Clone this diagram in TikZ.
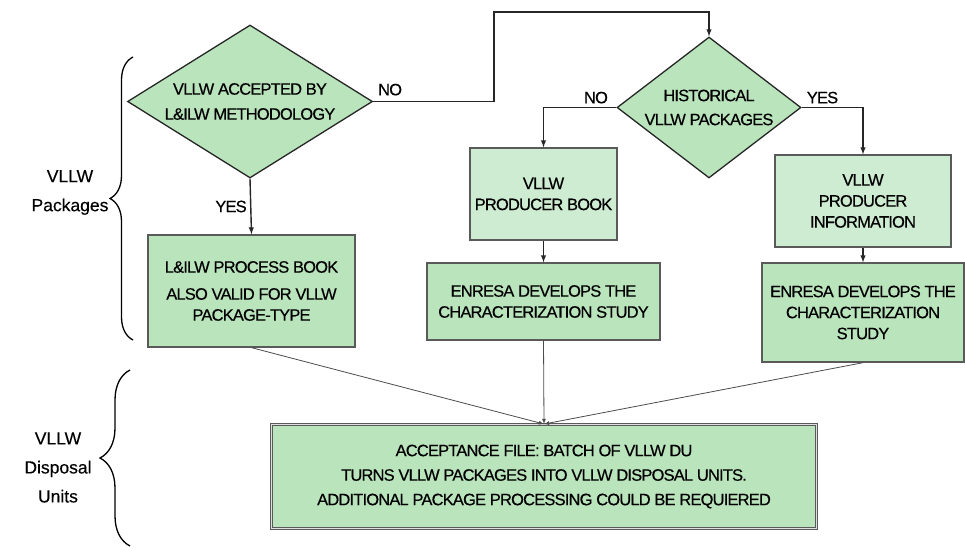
\documentclass[tikz,border=0pt]{standalone}
\usepackage{fontspec}
\setmainfont{Liberation Sans}
\newfontfamily\boxfont[LetterSpace=-5, FakeBold=0.4]{Liberation Sans}
\newfontfamily\sidefont[FakeBold=0.3]{Liberation Sans}
\usepackage{tikz}
\usetikzlibrary{shapes.geometric}
\usetikzlibrary{decorations.pathreplacing}

\definecolor{boxgreen}{RGB}{186,228,188}
\definecolor{lightgreen}{RGB}{206,236,209}
\definecolor{edgegray}{RGB}{90,90,90}

\begin{document}
\begin{tikzpicture}[x=1pt, y=-1pt, >=latex,
    decision/.style={diamond, draw=black!85, fill=boxgreen, line width=1.3pt, inner sep=0pt, align=center,
        font=\boxfont\fontsize{16.5}{21}\selectfont},
    process/.style={rectangle, draw=edgegray, fill=boxgreen, line width=1.3pt, inner sep=0pt, align=center,
        font=\boxfont\fontsize{16.5}{21}\selectfont},
    source/.style={process, fill=lightgreen},
    final/.style={process, line width=0.9pt, double=gray!25, double distance=1.3pt},
    answer/.style={font=\boxfont\fontsize{16.5}{21}\selectfont},
    side/.style={align=center, font=\sidefont\fontsize{17.5}{29}\selectfont},
    flow/.style={->, line width=1.4pt, draw=black!85},
    feed/.style={->, line width=0.8pt, draw=black!70},
    bracket/.style={line width=1.3pt, decorate}]

\useasboundingbox (0,0) rectangle (965,549);

% Decisions
\node[decision, minimum width=245pt, minimum height=153pt, aspect=1.6] (accepted) at (250,101.5) {VLLW ACCEPTED BY\\[4pt]L\&ILW METHODOLOGY};
\node[decision, minimum width=184pt, minimum height=141pt, aspect=1.3] (historical) at (709,107.5) {HISTORICAL\\[3pt]VLLW PACKAGES};

% Package boxes
\node[process, minimum width=207pt, minimum height=112pt] (processbook) at (251.5,291) {L\&ILW PROCESS BOOK\\[6pt]ALSO VALID FOR VLLW\\PACKAGE-TYPE};
\node[source, minimum width=147pt, minimum height=92pt] (producerbook) at (543.5,194) {VLLW\\PRODUCER BOOK};
\node[process, minimum width=233pt, minimum height=77pt] (studyA) at (543.5,301.5) {ENRESA DEVELOPS THE\\CHARACTERIZATION STUDY};
\node[source, minimum width=176pt, minimum height=92pt] (producerinfo) at (863,201) {VLLW\\PRODUCER\\INFORMATION};
\node[process, minimum width=202pt, minimum height=99pt] (studyB) at (863,312.5) {ENRESA DEVELOPS THE\\CHARACTERIZATION\\STUDY};

% Disposal unit box
\node[final, minimum width=545pt, minimum height=104pt] (acceptance) at (544,476.5) {ACCEPTANCE FILE: BATCH OF VLLW DU\\[3.5pt]TURNS VLLW PACKAGES INTO VLLW DISPOSAL UNITS.\\[3.5pt]ADDITIONAL PACKAGE PROCESSING COULD BE REQUIERED};

% Decision connections
\coordinate (turn) at (494,12);
\draw[flow] (accepted.south) -- node[answer, left] {YES} (processbook.north);
\draw[flow] (accepted.east) -| node[answer, pos=0.07, above=2pt] {NO} (turn) -| (historical.north);
\draw[flow] (historical.west) -| node[answer, pos=0.14, above] {NO} (producerbook.north);
\draw[flow] (historical.east) -| node[answer, pos=0.17, above] {YES} (producerinfo.north);
\draw[flow] (producerbook) -- (studyA);
\draw[flow] (producerinfo) -- (studyB);

% Into the acceptance file
\foreach \n in {processbook, studyA, studyB} {
    \draw[feed] (\n.south) -- (acceptance.north);
}

% Braces and side labels
\draw[bracket, decoration={brace, amplitude=23pt}] (133,340) -- (133,57);
\draw[bracket, decoration={brace, amplitude=30pt}] (130,546) -- (130,370);
\node[side] (packages) at (70,192.5) {VLLW\\Packages};
\node[side] (units) at (58,467.5) {VLLW\\Disposal\\Units};

\end{tikzpicture}
\end{document}
